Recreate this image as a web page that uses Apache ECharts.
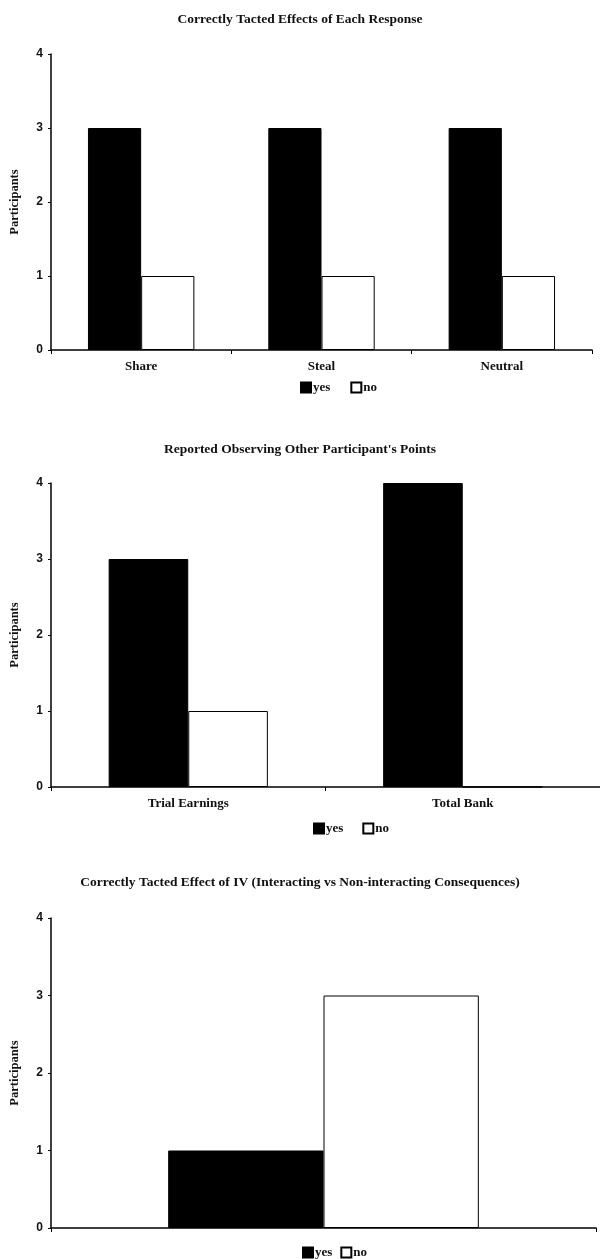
<!DOCTYPE html>
<html>
<head>
<meta charset="utf-8">
<script src="https://cdn.jsdelivr.net/npm/echarts@6/dist/echarts.min.js"></script>
<style>
html,body{margin:0;padding:0;background:#fff;}
#c{width:600px;height:1259px;}
</style>
</head>
<body>
<div id="c"></div>
<script>
// ---- data ----
var titles = [
  'Correctly Tacted Effects of Each Response',
  "Reported Observing Other Participant's Points",
  'Correctly Tacted Effect of IV (Interacting vs Non-interacting Consequences)'
];
var cats1 = ['Share', 'Steal', 'Neutral'];
var yes1 = [3, 3, 3];
var no1 = [1, 1, 1];
var cats2 = ['Trial Earnings', 'Total Bank'];
var yes2 = [3, 4];
var no2 = [1, 0];
var cats3 = [''];
var yes3 = [1];
var no3 = [3];
var seriesNames = ['yes', 'no'];
var yAxisName = 'Participants';
var yMin = 0, yMax = 4, yStep = 1;

// ---- styling ----
var serif = 'Liberation Serif';
var sans = 'Liberation Sans';
var grids = [
  {left: 47, top: 54, width: 545, height: 296},
  {left: 48, top: 483, width: 560, height: 304},
  {left: 46, top: 918, width: 550, height: 310}
];
var titleTops = [8, 438, 871];
var legendPos = [{left: 295, top: 376}, {left: 308, top: 817}, {left: 297, top: 1241}];
var legendGaps = [20, 19, 8];
var catLists = [cats1, cats2, cats3];
var yesLists = [yes1, yes2, yes3];
var noLists = [no1, no2, no3];
var catGaps = ['41%', '42%', '43%'];

var option = {
  animation: false,
  backgroundColor: '#fff',
  title: [], grid: [], xAxis: [], yAxis: [], legend: [], series: []
};

for (var i = 0; i < 3; i++) {
  option.title.push({
    text: titles[i], left: 'center', top: titleTops[i],
    textStyle: {fontFamily: serif, fontWeight: 'bold', fontSize: 13.5, color: '#111'}
  });
  option.grid.push(grids[i]);
  option.xAxis.push({
    type: 'category', gridIndex: i, data: catLists[i],
    axisLine: {lineStyle: {color: '#000', width: 1.5}},
    axisTick: {show: true, length: 4, lineStyle: {color: '#000', width: 1}},
    axisLabel: {fontFamily: serif, fontWeight: 'bold', fontSize: 13, color: '#111', margin: 10}
  });
  option.yAxis.push({
    type: 'value', gridIndex: i, min: yMin, max: yMax, interval: yStep,
    name: yAxisName, nameLocation: 'middle', nameGap: 30, nameRotate: 90,
    nameTextStyle: {fontFamily: serif, fontWeight: 'bold', fontSize: 12.5, color: '#111'},
    axisLine: {show: true, lineStyle: {color: '#000', width: 1.5}},
    axisTick: {show: true, length: 3, lineStyle: {color: '#000'}},
    splitLine: {show: false},
    axisLabel: {fontFamily: sans, fontWeight: 'bold', fontSize: 12, color: '#111', margin: 8}
  });
  option.legend.push({
    data: seriesNames, left: legendPos[i].left, top: legendPos[i].top,
    itemWidth: 10, itemHeight: 10, itemGap: legendGaps[i],
    icon: 'rect', selectedMode: false,
    textStyle: {fontFamily: serif, fontWeight: 'bold', fontSize: 13, color: '#111', padding: [0, 0, 0, -3]}
  });
  option.series.push({
    name: seriesNames[0], type: 'bar', xAxisIndex: i, yAxisIndex: i,
    data: yesLists[i], barGap: '0%', barCategoryGap: catGaps[i],
    itemStyle: {color: '#000', borderColor: '#000', borderWidth: 1}
  });
  option.series.push({
    name: seriesNames[1], type: 'bar', xAxisIndex: i, yAxisIndex: i,
    data: noLists[i], barGap: '0%', barCategoryGap: catGaps[i],
    itemStyle: {color: '#fff', borderColor: '#000', borderWidth: 1}
  });
}

var chart = echarts.init(document.getElementById('c'), null, {renderer: 'canvas'});
chart.setOption(option);
</script>
</body>
</html>
